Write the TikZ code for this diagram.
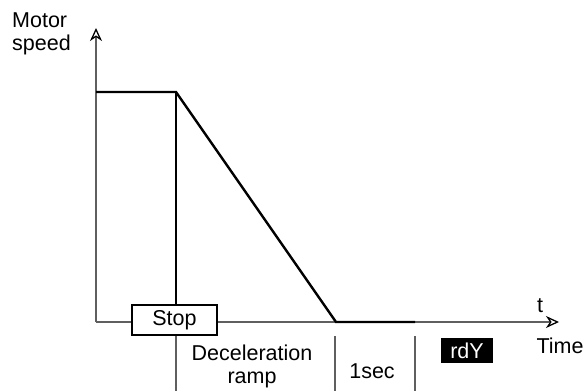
\documentclass[tikz,border=0pt]{standalone}
\usepackage{fontspec}
\setmainfont{Liberation Sans}
\usetikzlibrary{arrows.meta,positioning}
\definecolor{axisgray}{RGB}{95,95,95}

\begin{document}
\begin{tikzpicture}[x=1pt,y=-1pt,
    font=\fontsize{21.5}{23}\selectfont,
    axis/.style={draw=axisgray,line width=1.4pt,
                 -{Stealth[open,inset=4pt,length=13pt,width=12pt,line width=1.3pt,color=black]}},
    speedline/.style={draw=black,line width=2.4pt},
    divider/.style={draw=axisgray,line width=1.4pt},
    lbl/.style={inner sep=0pt,align=center},
    stopbox/.style={draw=black,fill=white,line width=2pt,
                    minimum width=85pt,minimum height=30pt,inner sep=0pt},
    rdybox/.style={fill=black,text=white,minimum width=52pt,
                   minimum height=25pt,inner sep=0pt}
  ]
    \useasboundingbox (0,0) rectangle (585,391);
    % axes
    \coordinate (O) at (96,322);
    \coordinate (ytop) at (96,28);
    \coordinate (xend) at (559,322);
    \draw[axis] (O) -- (ytop);
    \draw[axis] (O) -- (xend);
    % speed profile
    \coordinate (s0) at (96,92);
    \coordinate (s1) at (176,92);
    \coordinate (s2) at (336,322);
    \coordinate (s3) at (415,322);
    \node[stopbox] (stop) at (174.5,320) {Stop};
    \draw[speedline] (s0) -- (s1) -- (s2) -- (s3);
    \draw[speedline] (s1) -- (s1|-stop.north);
    % time dividers
    \coordinate (d1) at (176,391);
    \coordinate (d2) at (335,391);
    \coordinate (d3) at (415,391);
    \draw[divider] (stop.south-|d1) -- (d1);
    \draw[divider] (335,336) -- (d2);
    \draw[divider] (415,336) -- (d3);
    % labels
    \node[lbl,align=left,anchor=west] (motor) at (12,33.5) {Motor\\speed};
    \node[lbl] (decel) at (252,366) {Deceleration\\ramp};
    \node[lbl,anchor=base] (onesec) at (372,378) {1sec};
    \node[rdybox] (rdy) at (467,350.5) {rdY};
    \node[lbl,anchor=base] (tlbl) at (540,312) {t};
    \node[lbl,anchor=base] (time) at (560,353) {Time};
  \end{tikzpicture}
\end{document}
